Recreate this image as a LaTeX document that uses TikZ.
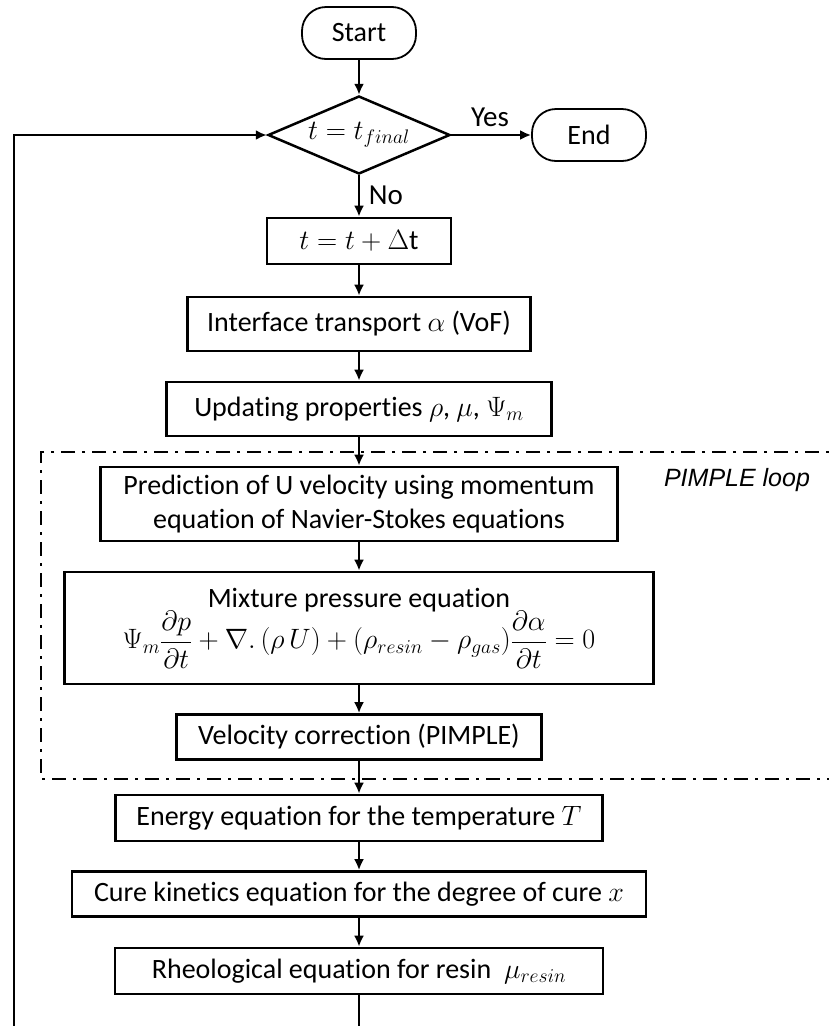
\documentclass[tikz,border=0pt]{standalone}
\usepackage{fix-cm}
\usepackage{fontspec}
\setmainfont{Carlito}[Ligatures={NoCommon}]
\newfontfamily\pimplefont{Liberation Sans}
\usetikzlibrary{shapes.geometric,arrows.meta}
\tikzset{
  base/.style={font=\fontsize{28}{34}\selectfont, align=center, inner sep=0pt},
  procbox/.style={base, draw, line width=2.7pt, rectangle},
  term/.style={base, draw, line width=1.8pt, rounded corners=24pt, minimum width=114pt, minimum height=52pt},
  decide/.style={base, draw, line width=2.5pt, diamond, aspect=2.33, minimum width=182pt, minimum height=78pt},
  arr/.style={line width=2.3pt, -{Latex[length=11pt,width=10pt]}},
  plainline/.style={line width=2.3pt},
  loopframe/.style={line width=2pt, dash pattern=on 14pt off 7pt on 3pt off 7pt},
  lbl/.style={font=\fontsize{29}{34}\selectfont, inner sep=0pt},
  looplbl/.style={font=\pimplefont\itshape\fontsize{25}{30}\selectfont, inner sep=0pt},
}
\begin{document}
\begin{tikzpicture}[x=1pt,y=-1pt]
\useasboundingbox (0,0) rectangle (829,1026);
% nodes
\node[term] (start) at (359,33) {Start};
\node[decide] (dec) at (359,135) {$t = t_{final}$};
\node[term] (end) at (589,135) {End};
\node[procbox, minimum width=184pt, minimum height=46pt] (tstep) at (359,241) {$t = t + \Delta\mathrm{t}$};
\node[procbox, minimum width=343pt, minimum height=54pt] (iface) at (359,324) {Interface transport $\alpha$ (VoF)};
\node[procbox, minimum width=385pt, minimum height=54pt] (upd) at (359,409) {Updating properties $\rho$, $\mu$, $\Psi_m$};
\node[procbox, minimum width=517pt, minimum height=74pt] (pred) at (359,504) {Prediction of U velocity using momentum\\equation of Navier-Stokes equations};
\node[procbox, minimum width=589pt, minimum height=112pt] (mix) at (359,628) {Mixture pressure equation\\[-2pt]$\displaystyle \Psi_m \frac{\partial p}{\partial t} + \nabla.\,(\rho\, U) + \bigl(\rho_{resin} - \rho_{gas}\bigr)\frac{\partial \alpha}{\partial t} = 0$};
\node[procbox, minimum width=365pt, minimum height=45pt] (vel) at (359,737) {Velocity correction (PIMPLE)};
\node[procbox, minimum width=487pt, minimum height=46pt] (energy) at (359,818) {Energy equation for the temperature $T$};
\node[procbox, minimum width=574pt, minimum height=45pt] (cure) at (359,894) {Cure kinetics equation for the degree of cure $x$};
\node[procbox, minimum width=488pt, minimum height=46pt] (rheo) at (359,971) {Rheological equation for resin \ $\mu_{resin}$};
% labels
\node[lbl] (yes) at (490,117) {Yes};
\node[lbl] (no) at (386,195) {No};
\node[looplbl] (pimple) at (737,480) {PIMPLE loop};
% PIMPLE frame
\draw[loopframe] (850,452) -- (41,452) -- (41,779) -- (850,779);
% connectors
\draw[arr] (start) -- (dec);
\draw[arr] (dec) -- (end);
\draw[arr] (dec) -- (tstep);
\draw[arr] (tstep) -- (iface);
\draw[arr] (iface) -- (upd);
\draw[arr] (upd) -- (pred);
\draw[arr] (pred) -- (mix);
\draw[arr] (mix) -- (vel);
\draw[arr] (vel) -- (energy);
\draw[arr] (energy) -- (cure);
\draw[arr] (cure) -- (rheo);
\coordinate (rheoOut) at (359,1032);
\draw[plainline] (rheo) -- (rheoOut);
\coordinate (fbStart) at (14,1032);
\draw[arr] (fbStart) |- (dec.west);
\end{tikzpicture}
\end{document}
